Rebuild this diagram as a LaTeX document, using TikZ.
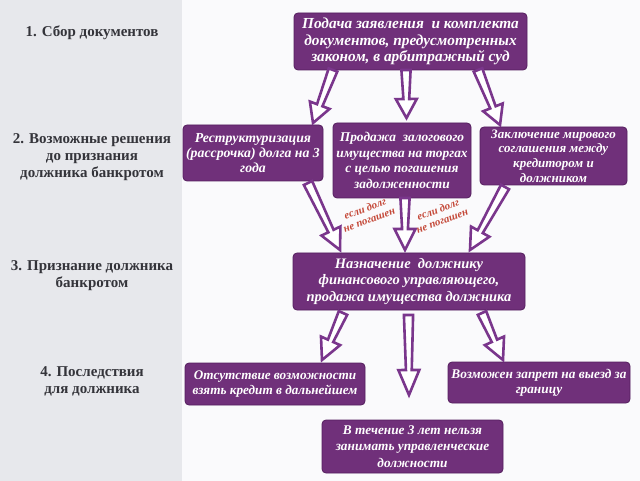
\documentclass[tikz,border=0pt]{standalone}
\usepackage{fontspec}
\setmainfont{Liberation Serif}
\usetikzlibrary{calc}
\definecolor{boxpurple}{RGB}{112,48,122}
\definecolor{boxedge}{RGB}{84,30,94}
\definecolor{arrpurple}{RGB}{122,54,140}
\definecolor{panelgrey}{RGB}{231,232,236}
\definecolor{pagewhite}{RGB}{250,250,252}
\definecolor{labelgrey}{RGB}{52,52,58}
\definecolor{notered}{RGB}{196,72,56}
\newcommand{\harrow}[3][19pt]{%
  \coordinate (hs) at #2;
  \coordinate (he) at #3;
  \coordinate (hb) at ($(he)!#1!(hs)$);
  \draw[harr] ($(hs)!4.6pt!90:(he)$) -- ($(hb)!2.9pt!-90:(hs)$) -- ($(hb)!10.5pt!-90:(hs)$) -- (he)
     -- ($(hb)!10.5pt!90:(hs)$) -- ($(hb)!2.9pt!90:(hs)$) -- ($(hs)!4.6pt!-90:(he)$) -- cycle;
}
\newcommand{\bxf}[2]{\bfseries\itshape\fontsize{#1}{#2}\selectfont}
\begin{document}
\begin{tikzpicture}[x=1pt,y=-1pt,
  box/.style={fill=boxpurple, draw=boxedge, line width=0.8pt, rounded corners=4pt,
    text=white, align=center,
    inner xsep=0pt, inner ysep=1pt, outer sep=0pt},
  stagelabel/.style={text=labelgrey, font=\bfseries\fontsize{15}{16.8}\selectfont, align=center},
  notelabel/.style={text=notered, font=\bfseries\itshape\fontsize{10.8}{12}\selectfont, align=center, rotate=20},
  harr/.style={draw=arrpurple, fill=white, line width=2.6pt, line join=miter}]
\useasboundingbox (0,0) rectangle (640,481);
\fill[pagewhite] (0,0) rectangle (640,481);
\fill[panelgrey] (0,0) rectangle (182,481);

% stage labels
\node[stagelabel] (l1) at (92,33) {1. Сбор документов};
\node[stagelabel] (l2) at (92,157) {2. Возможные решения\\до признания\\должника банкротом};
\node[stagelabel] (l3) at (92,276) {3. Признание должника\\банкротом};
\node[stagelabel] (l4) at (92,381) {4. Последствия\\для должника};

% boxes
\node[box, font=\bxf{15.3}{16.6}, minimum width=233pt, minimum height=57pt] (top) at (410.5,41.5)
  {Подача заявления \ и комплекта\\документов, предусмотренных\\законом, в арбитражный суд};
\node[box, font=\bxf{13.8}{15}, minimum width=140pt, minimum height=56pt] (A) at (253,153)
  {Реструктуризация\\(рассрочка) долга на 3\\года};
\node[box, font=\bxf{13.4}{15.7}, minimum width=138pt, minimum height=75pt] (B) at (402,160.5)
  {Продажа \ залогового\\имущества на торгах\\с целью погашения\\задолженности};
\node[box, font=\bxf{13}{14.6}, minimum width=147pt, minimum height=58pt] (C) at (553.5,156)
  {Заключение мирового\\соглашения между\\кредитором и\\должником};
\node[box, font=\bxf{14.5}{16.4}, minimum width=232pt, minimum height=57pt] (D) at (409,281.5)
  {Назначение \ должнику\\финансового управляющего,\\продажа имущества должника};
\node[box, font=\bxf{13.2}{15}, minimum width=180pt, minimum height=42pt] (E) at (275,384)
  {Отсутствие возможности\\взять кредит в дальнейшем};
\node[box, font=\bxf{13.3}{15}, minimum width=182pt, minimum height=41pt] (F) at (539,382.5)
  {Возможен запрет на выезд за\\границу};
\node[box, font=\bxf{13.3}{16.8}, minimum width=181pt, minimum height=53pt] (G) at (412.5,446.5)
  {В течение 3 лет нельзя\\занимать управленческие\\должности};

% arrows
\harrow{([xshift=39pt]top.south west)}{([xshift=-10pt,yshift=2pt]A.north east)}
\harrow{([xshift=-4.5pt]top.south)}{([xshift=4.5pt,yshift=5pt]B.north)}
\harrow{([xshift=-49pt]top.south east)}{([xshift=20pt,yshift=2pt]C.north west)}
\harrow[21pt]{([xshift=-15pt,yshift=-2pt]A.south east)}{([xshift=47pt,yshift=3pt]D.north west)}
\harrow[21pt]{([xshift=3pt]B.south)}{([xshift=-4pt,yshift=3pt]D.north)}
\harrow[21pt]{([xshift=25pt,yshift=-2pt]C.south west)}{([xshift=-55pt,yshift=3pt]D.north east)}
\harrow[21pt]{([xshift=50pt,yshift=-3pt]D.south west)}{([xshift=-43pt,yshift=3pt]E.north east)}
\harrow[25pt]{([xshift=-0.5pt,yshift=-5pt]D.south)}{([xshift=-3.5pt,yshift=25pt]G.north)}
\harrow[21pt]{([xshift=-43pt,yshift=-3pt]D.south east)}{([xshift=55pt,yshift=2pt]F.north west)}

% notes
\node[notelabel] (n1) at (367,214) {если долг\\не погашен};
\node[notelabel] (n2) at (440,215) {если долг\\не погашен};
\end{tikzpicture}
\end{document}
